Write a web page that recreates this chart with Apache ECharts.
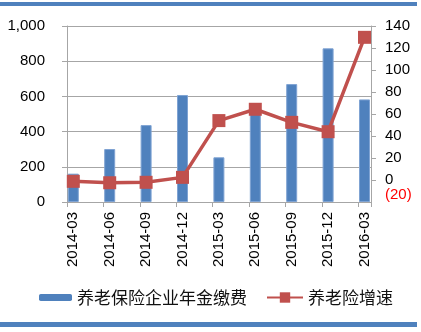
<!DOCTYPE html>
<html>
<head>
<meta charset="utf-8">
<script src="https://cdn.jsdelivr.net/npm/echarts@6/dist/echarts.min.js"></script>
<style>
  html, body { margin: 0; padding: 0; background: #fff; }
  #chart { width: 421px; height: 332px; }
</style>
</head>
<body>
<div id="chart"></div>
<script>
// Quarterly enterprise annuity contributions (left axis) and growth rate (right axis)
var categories = ['2014-03', '2014-06', '2014-09', '2014-12', '2015-03', '2015-06', '2015-09', '2015-12', '2016-03'];
var annuityFees = [161, 301, 437, 608, 254, 520, 670, 873, 583];
var growthRate = [-1.2, -2.5, -2.1, 2.4, 54, 64.3, 52.4, 43.9, 129.7];
var leftTicks = { min: 0, max: 1000, interval: 200 };
var rightTicks = { min: -20, max: 140, interval: 20 };

var BLUE = '#4F81BD';
var RED = '#C0504D';
var GRID_GRAY = '#A6A6A6';
var FONT = '"Liberation Sans", Arial, sans-serif';
var CJK = '"Noto Sans CJK SC", sans-serif';

var chart = echarts.init(document.getElementById('chart'));

function thousands(v) {
  return String(v).replace(/\B(?=(\d{3})+(?!\d))/g, ',');
}

chart.setOption({
  animation: false,
  backgroundColor: '#fff',
  graphic: [
    { type: 'rect', shape: { x: 0, y: 2, width: 417, height: 4 }, style: { fill: BLUE }, silent: true },
    { type: 'rect', shape: { x: 0, y: 322, width: 417, height: 5 }, style: { fill: BLUE }, silent: true }
  ],
  legend: [
    {
      data: ['养老保险企业年金缴费'],
      left: 39, top: 289, padding: 0,
      itemWidth: 33, itemHeight: 7, itemGap: 0,
      itemStyle: { borderWidth: 0 },
      textStyle: { fontFamily: CJK, fontSize: 17, color: '#111' }
    },
    {
      data: ['养老险增速'],
      left: 266, top: 289, padding: 0,
      itemWidth: 36, itemHeight: 13, itemGap: 0,
      textStyle: { fontFamily: CJK, fontSize: 17, color: '#111' }
    }
  ],
  grid: [
    // frame with axes and gridlines
    { left: 67, right: 50, top: 26, bottom: 130 },
    // plotting grid whose category centres sit on the bars
    { left: 55.1, right: 38.3, top: 26, bottom: 130 }
  ],
  xAxis: [
    {
      gridIndex: 0, type: 'value', min: 0, max: 8.352, interval: 1,
      axisLine: { show: true, lineStyle: { color: GRID_GRAY, width: 1 } },
      axisTick: { show: true, length: 5, lineStyle: { color: GRID_GRAY } },
      axisLabel: { show: false },
      splitLine: { show: false }
    },
    {
      gridIndex: 1, type: 'category', data: categories, boundaryGap: true,
      axisLine: { show: false },
      axisTick: { show: false },
      axisLabel: { rotate: 90, margin: 10, fontSize: 15, fontFamily: FONT, color: '#000', interval: 0 },
      splitLine: { show: false }
    }
  ],
  yAxis: [
    {
      gridIndex: 0, type: 'value', position: 'left',
      min: leftTicks.min, max: leftTicks.max, interval: leftTicks.interval,
      axisLine: { show: true, lineStyle: { color: GRID_GRAY, width: 1 } },
      axisTick: { show: true, length: 5, lineStyle: { color: GRID_GRAY } },
      axisLabel: { margin: 22, fontSize: 15, fontFamily: FONT, color: '#000', formatter: thousands },
      splitLine: { show: true, lineStyle: { color: GRID_GRAY, width: 1 } }
    },
    {
      gridIndex: 0, type: 'value', position: 'right',
      min: rightTicks.min, max: rightTicks.max, interval: rightTicks.interval,
      axisLine: { show: true, lineStyle: { color: GRID_GRAY, width: 1 } },
      axisTick: { show: true, length: 5, lineStyle: { color: GRID_GRAY } },
      axisLabel: { margin: 14, fontSize: 15, fontFamily: FONT, color: '#000', showMinLabel: false },
      splitLine: { show: false }
    },
    {
      gridIndex: 1, type: 'value', min: leftTicks.min, max: leftTicks.max, show: false
    },
    {
      gridIndex: 1, type: 'value', min: rightTicks.min, max: rightTicks.max, show: false
    },
    {
      // negative bottom value of the rate axis, shown in red and in parentheses
      gridIndex: 0, type: 'value', position: 'right',
      min: rightTicks.min, max: rightTicks.max, interval: rightTicks.interval,
      axisLine: { show: false }, axisTick: { show: false }, splitLine: { show: false },
      axisLabel: {
        margin: 14, fontSize: 15, fontFamily: FONT, color: '#FF0000',
        showMinLabel: true, verticalAlignMinLabel: 'bottom',
        formatter: function (v) {
          return v < 0 ? '(' + Math.abs(v) + ')' : '';
        }
      }
    }
  ],
  series: [
    {
      name: '养老保险企业年金缴费', type: 'bar',
      xAxisIndex: 1, yAxisIndex: 2,
      data: annuityFees, barWidth: 11,
      itemStyle: { color: BLUE, borderColor: '#7FA3D3', borderWidth: 1 },
      z: 2
    },
    {
      name: '养老险增速', type: 'line',
      xAxisIndex: 1, yAxisIndex: 3,
      data: growthRate,
      symbol: 'rect', symbolSize: 13,
      lineStyle: { color: RED, width: 3.5 },
      itemStyle: { color: RED },
      z: 5
    }
  ]
});
</script>
</body>
</html>
